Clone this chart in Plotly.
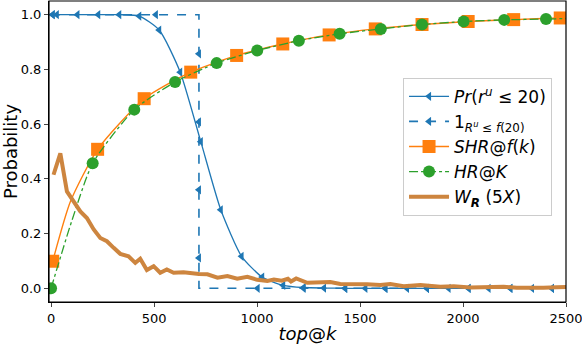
import plotly.graph_objects as go

# Pr(r^u <= 20)
pr_x = [8, 28, 128, 229, 331, 428, 525, 627, 727, 824, 925, 1025, 1127, 1226,
        1325, 1428, 1526, 1623, 1728, 1825, 1930, 2027, 2124, 2230, 2335, 2432]
pr_y = [1.0, 1.0, 1.0, 1.0, 1.0, 0.995, 0.944, 0.79, 0.536, 0.287, 0.117, 0.041,
        0.011, 0.003, 0.001, 0.0, 0.0, 0.0, 0.0, 0.0, 0.0, 0.0, 0.0, 0.0, 0.0, 0.0]

# indicator 1_{R^u <= f(20)}
ind_x = [0, 718, 718, 2500]
ind_y = [1.0, 1.0, 0.0, 0.0]
ind_mx = [8, 509, 718, 718, 718, 718, 1003, 1226, 1428, 1623, 1825, 2027, 2230, 2432]
ind_my = [1.0, 1.0, 0.857, 0.608, 0.36, 0.111, 0.0, 0.0, 0.0, 0.0, 0.0, 0.0, 0.0, 0.0]

# SHR@f(k)
shr_line_x = [8, 94, 226, 452, 678, 901, 1125, 1350, 1574, 1801, 2025, 2246, 2472, 2500]
shr_line_y = [0.099, 0.317, 0.508, 0.693, 0.79, 0.851, 0.893, 0.926, 0.948, 0.964,
              0.975, 0.982, 0.988, 0.988]
shr_x = [8, 226, 452, 678, 901, 1125, 1350, 1574, 1801, 2025, 2246, 2472]
shr_y = [0.099, 0.508, 0.693, 0.79, 0.851, 0.893, 0.926, 0.948, 0.964, 0.975, 0.982, 0.988]

# HR@K
hr_line_x = [0, 100, 202, 404, 602, 804, 1001, 1203, 1401, 1601, 1801, 2003, 2200, 2403, 2500]
hr_line_y = [0.0, 0.245, 0.457, 0.653, 0.754, 0.823, 0.869, 0.905, 0.93, 0.948, 0.964,
             0.975, 0.981, 0.984, 0.986]
hr_x = [0, 202, 404, 602, 804, 1001, 1203, 1401, 1601, 1801, 2003, 2200, 2403]
hr_y = [0.0, 0.457, 0.653, 0.754, 0.823, 0.869, 0.905, 0.93, 0.948, 0.964, 0.975, 0.981, 0.984]

# W_R (5X)
wr_x = [12, 45, 77, 109, 142, 174, 207, 239, 271, 304, 336, 376, 409, 433, 465, 498,
        530, 562, 595, 643, 683, 718, 759, 808, 856, 904, 953, 1001, 1050, 1082, 1120,
        1150, 1165, 1190, 1244, 1308, 1356, 1404, 1469, 1534, 1598, 1647, 1712, 1793,
        1890, 1955, 2035, 2116, 2197, 2261, 2326, 2390, 2455, 2500]
wr_y = [0.415, 0.493, 0.354, 0.317, 0.281, 0.257, 0.215, 0.184, 0.172, 0.148, 0.126,
        0.117, 0.093, 0.108, 0.067, 0.081, 0.057, 0.069, 0.057, 0.059, 0.054, 0.052,
        0.051, 0.039, 0.045, 0.035, 0.042, 0.031, 0.027, 0.032, 0.028, 0.035, 0.025,
        0.036, 0.02, 0.022, 0.023, 0.016, 0.017, 0.015, 0.012, 0.016, 0.008, 0.012,
        0.006, 0.008, 0.003, 0.005, 0.006, 0.002, 0.001, 0.002, 0.004, 0.005]

x_ticks = [0, 500, 1000, 1500, 2000, 2500]
y_ticks = [0.0, 0.2, 0.4, 0.6, 0.8, 1.0]

BLUE, ORANGE, GREEN, PERU = '#1f77b4', '#ff7f0e', '#2ca02c', '#cd853f'
FONT = 'DejaVu Sans'

fig = go.Figure()

fig.add_trace(go.Scatter(x=pr_x, y=pr_y, mode='lines+markers', showlegend=False,
                         line=dict(color=BLUE, width=1.3, shape='spline', smoothing=0.6),
                         marker=dict(symbol='triangle-left', size=8, color=BLUE)))
fig.add_trace(go.Scatter(x=ind_x, y=ind_y, mode='lines', showlegend=False,
                         line=dict(color=BLUE, width=1.6, dash='dash')))
fig.add_trace(go.Scatter(x=ind_mx, y=ind_my, mode='markers', showlegend=False,
                         marker=dict(symbol='triangle-left', size=8, color=BLUE)))
fig.add_trace(go.Scatter(x=shr_line_x, y=shr_line_y, mode='lines', showlegend=False,
                         line=dict(color=ORANGE, width=1.4, shape='spline', smoothing=0.6)))
fig.add_trace(go.Scatter(x=shr_x, y=shr_y, mode='markers', showlegend=False,
                         marker=dict(symbol='square', size=13, color=ORANGE)))
fig.add_trace(go.Scatter(x=hr_line_x, y=hr_line_y, mode='lines', showlegend=False,
                         line=dict(color=GREEN, width=1.3, dash='dashdot',
                                   shape='spline', smoothing=0.6)))
fig.add_trace(go.Scatter(x=hr_x, y=hr_y, mode='markers', showlegend=False,
                         marker=dict(symbol='circle', size=12, color=GREEN)))
fig.add_trace(go.Scatter(x=wr_x, y=wr_y, mode='lines', showlegend=False,
                         line=dict(color=PERU, width=4)))

# legend entries
legend_items = [
    ('<i>Pr</i>(<i>r<sup>u</sup></i> ≤ 20)', 'lines+markers',
     dict(color=BLUE, width=1.3), dict(symbol='triangle-left', size=8, color=BLUE)),
    ('1<sub><i>R<sup>u</sup></i> ≤ <i>f</i>(20)</sub>', 'lines+markers',
     dict(color=BLUE, width=1.6, dash='dash'), dict(symbol='triangle-left', size=8, color=BLUE)),
    ('<i>SHR</i>@<i>f</i>(<i>k</i>)', 'lines+markers',
     dict(color=ORANGE, width=1.4), dict(symbol='square', size=13, color=ORANGE)),
    ('<i>HR</i>@<i>K</i>', 'lines+markers',
     dict(color=GREEN, width=1.3, dash='dashdot'), dict(symbol='circle', size=12, color=GREEN)),
    ('<i>W</i><sub><b><i>R</i></b></sub> (5<i>X</i>)', 'lines',
     dict(color=PERU, width=4), None),
]
for i, (name, mode, line, marker) in enumerate(legend_items):
    kw = dict(x=[None], y=[None], mode=mode, name=name, line=line,
              legendgroup=f'g{i}', showlegend=True)
    if marker:
        kw['marker'] = marker
    fig.add_trace(go.Scatter(**kw))

fig.update_layout(
    width=582, height=344,
    margin=dict(l=49, r=16, t=1, b=42, autoexpand=False),
    plot_bgcolor='white', paper_bgcolor='white',
    font=dict(family=FONT, size=13, color='black'),
    legend=dict(x=0.973, y=0.745, xanchor='right', yanchor='top',
                bgcolor='rgba(255,255,255,0.8)', bordercolor='#cccccc', borderwidth=1,
                font=dict(family=FONT, size=17), itemwidth=40,
                traceorder='grouped', tracegroupgap=0),
    xaxis=dict(range=[-10, 2500], tickvals=x_ticks, ticks='outside', ticklen=4,
               showgrid=False, zeroline=False, showline=True, linecolor='black',
               linewidth=1, automargin=False, ticklabeloverflow='allow',
               title=dict(text='<i>top</i>@<i>k</i>', font=dict(size=18), standoff=2)),
    yaxis=dict(range=[-0.05, 1.05], tickvals=y_ticks, tickformat='.1f', ticks='outside',
               ticklen=4, showgrid=False, zeroline=False, showline=True,
               linecolor='black', linewidth=1, automargin=False,
               title=dict(text='Probability', font=dict(size=18), standoff=4)),
    shapes=[dict(type='rect', xref='paper', yref='paper', x0=0, x1=1, y0=0, y1=1,
                 line=dict(color='black', width=1.2), layer='above')],
)

# drop the browser's default page margin and scrollbars so the figure fills the window
fig.write_html(
    "out.html",
    config={'displayModeBar': False},
    post_script="document.body.style.margin='0';"
                "document.body.style.overflow='hidden';"
                "document.documentElement.style.overflow='hidden';",
)
